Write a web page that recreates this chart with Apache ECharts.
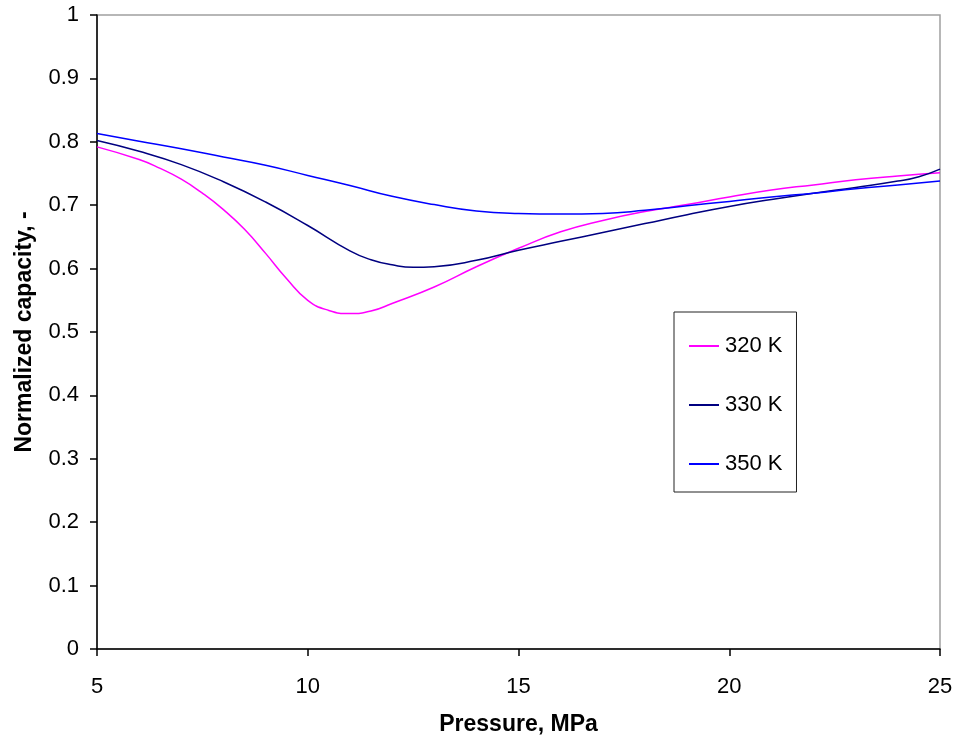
<!DOCTYPE html>
<html>
<head>
<meta charset="utf-8">
<script src="https://cdn.jsdelivr.net/npm/echarts@6/dist/echarts.min.js"></script>
<style>
html,body{margin:0;padding:0;background:#fff;}
#chart{width:955px;height:735px;}
</style>
</head>
<body>
<div id="chart"></div>
<script>
const p320 = [5, 6, 6.5, 7, 7.5, 8, 8.5, 9, 9.5, 10, 10.5, 11, 11.5, 12, 13, 14, 15, 16, 17, 18, 19, 20, 21, 22, 23, 24, 25];
const cap320 = [0.792, 0.772, 0.758, 0.741, 0.719, 0.693, 0.662, 0.624, 0.584, 0.550, 0.534, 0.529, 0.533, 0.545, 0.571, 0.603, 0.632, 0.658, 0.676, 0.690, 0.701, 0.713, 0.724, 0.732, 0.740, 0.746, 0.751];
const p330 = [5, 6, 7, 8, 9, 10, 11, 11.5, 12, 12.5, 13, 14, 15, 16, 17, 18, 19, 20, 21, 22, 23, 24, 24.5, 25];
const cap330 = [0.802, 0.785, 0.764, 0.737, 0.705, 0.668, 0.628, 0.614, 0.606, 0.602, 0.603, 0.613, 0.629, 0.643, 0.657, 0.671, 0.685, 0.698, 0.709, 0.719, 0.728, 0.738, 0.745, 0.757];
const p350 = [5, 6, 7, 8, 9, 10, 11, 12, 13, 14, 15, 16, 17, 18, 19, 20, 21, 22, 23, 24, 25];
const cap350 = [0.813, 0.801, 0.789, 0.776, 0.763, 0.747, 0.731, 0.714, 0.701, 0.691, 0.687, 0.686, 0.687, 0.692, 0.699, 0.706, 0.713, 0.719, 0.726, 0.732, 0.738];
const seriesNames = ['320 K', '330 K', '350 K'];
const seriesColors = ['#FF00FF', '#000080', '#0000FF'];
const xTitle = 'Pressure, MPa';
const yTitle = 'Normalized capacity, -';

const xs = [p320, p330, p350];
const ys = [cap320, cap330, cap350];
const font = 'Liberation Sans, Arial, sans-serif';

const chart = echarts.init(document.getElementById('chart'), null, {renderer: 'canvas'});
chart.setOption({
  animation: false,
  backgroundColor: '#fff',
  grid: {
    left: 97, right: 15, top: 15, bottom: 86,
    outerBoundsMode: 'none', containLabel: false,
    show: true, borderColor: '#a0a0a0', borderWidth: 1.5, backgroundColor: 'transparent'
  },
  legend: {
    orient: 'vertical',
    left: 674, top: 312,
    padding: [23, 14, 17, 14],
    itemGap: 37,
    itemWidth: 30, itemHeight: 14,
    itemStyle: {opacity: 0},
    borderColor: '#222', borderWidth: 1,
    textStyle: {fontFamily: font, fontSize: 22, color: '#000', padding: [0, 0, 0, 1]},
    data: seriesNames
  },
  xAxis: {
    type: 'value', min: 5, max: 25, interval: 5,
    name: xTitle, nameLocation: 'middle', nameGap: 64,
    nameTextStyle: {fontFamily: font, fontSize: 23, fontWeight: 'bold', color: '#000'},
    axisLine: {show: true, lineStyle: {color: '#000', width: 1.5}},
    axisTick: {show: true, inside: false, length: 7, lineStyle: {color: '#000', width: 1.5}},
    axisLabel: {fontFamily: font, fontSize: 22, color: '#000', margin: 27},
    splitLine: {show: false}
  },
  yAxis: {
    type: 'value', min: 0, max: 1, interval: 0.1,
    name: yTitle, nameLocation: 'middle', nameGap: 61, nameRotate: 90,
    nameTextStyle: {fontFamily: font, fontSize: 23, fontWeight: 'bold', color: '#000'},
    axisLine: {show: true, lineStyle: {color: '#000', width: 1.5}},
    axisTick: {show: true, inside: false, length: 7, lineStyle: {color: '#000', width: 1.5}},
    axisLabel: {fontFamily: font, fontSize: 22, color: '#000', margin: 18,
      formatter: v => String(Math.round(v * 10) / 10)},
    splitLine: {show: false}
  },
  series: seriesNames.map((n, i) => ({
    name: n,
    type: 'line',
    smooth: 0.5,
    showSymbol: false,
    symbol: 'none',
    color: seriesColors[i],
    lineStyle: {color: seriesColors[i], width: 1.5},
    data: xs[i].map((p, j) => [p, ys[i][j]])
  }))
});
</script>
</body>
</html>
